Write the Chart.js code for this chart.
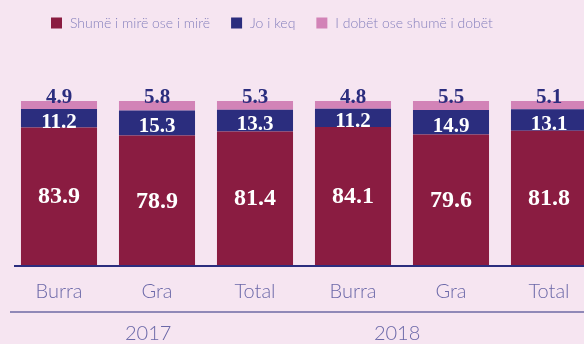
<!DOCTYPE html>
<html>
<head>
<meta charset="utf-8">
<script src="https://cdn.jsdelivr.net/npm/chart.js@4"></script>
<style>
  html, body { margin: 0; padding: 0; background: #f6e5f1; overflow: hidden; }
  #wrap { position: relative; width: 584px; height: 344px; overflow: hidden; }
  canvas { display: block; }
</style>
</head>
<body>
<div id="wrap"><canvas id="chart" width="600" height="344"></canvas></div>
<script>
// categories and values (percent)
const categories = ["Burra", "Gra", "Total", "Burra", "Gra", "Total"];
const years = ["2017", "2018"];
const seriesNames = ["Shumë i mirë ose i mirë", "Jo i keq", "I dobët ose shumë i dobët"];
const good = [83.9, 78.9, 81.4, 84.1, 79.6, 81.8];
const fair = [11.2, 15.3, 13.3, 11.2, 14.9, 13.1];
const poor = [4.9, 5.8, 5.3, 4.8, 5.5, 5.1];

const RED = "#8a1c41";
const NAVY = "#2b2d7e";
const PINK = "#d283b7";
const TICK_COLOR = "#6b68a8";
const LEGEND_COLOR = "#8680bd";

// numbers inside / above the stacked segments
const valueLabels = {
  id: "valueLabels",
  afterDatasetsDraw(chart) {
    const ctx = chart.ctx;
    ctx.save();
    ctx.textAlign = "center";
    ctx.textBaseline = "middle";
    chart.data.datasets.forEach((ds, i) => {
      chart.getDatasetMeta(i).data.forEach((bar, j) => {
        const v = ds.data[j];
        let y = (bar.y + bar.base) / 2;
        if (i === 0) {
          ctx.font = "bold 24px 'Liberation Serif'";
          ctx.fillStyle = "#ffffff";
          y += 1;
        } else if (i === 1) {
          ctx.font = "bold 21px 'Liberation Serif'";
          ctx.fillStyle = "#ffffff";
          y += 4;
        } else {
          ctx.font = "bold 21px 'Liberation Serif'";
          ctx.fillStyle = NAVY;
          y = bar.y - 3;
        }
        ctx.fillText(v.toFixed(1), bar.x, y);
      });
    });
    ctx.restore();
  }
};

// legend, axis lines and the year row
const decorations = {
  id: "decorations",
  afterDraw(chart) {
    const ctx = chart.ctx;
    const x = chart.scales.x;
    ctx.save();

    // legend
    ctx.font = "300 14px Lato";
    ctx.textBaseline = "middle";
    ctx.textAlign = "left";
    let lx = 51;
    const ly = 23;
    chart.data.datasets.forEach((ds) => {
      ctx.fillStyle = ds.backgroundColor;
      ctx.fillRect(lx, ly - 5.5, 11, 11);
      lx += 11 + 8;
      ctx.fillStyle = LEGEND_COLOR;
      ctx.fillText(ds.label, lx, ly);
      lx += ctx.measureText(ds.label).width + 21;
    });

    // base line under the bars
    ctx.fillStyle = NAVY;
    ctx.fillRect(14, chart.chartArea.bottom, chart.width - 14, 2);
    // separator between category and year rows
    ctx.fillRect(10, 311.5, chart.width - 10, 1);

    // year labels
    ctx.font = "300 20px Lato";
    ctx.textAlign = "center";
    ctx.fillStyle = TICK_COLOR;
    const yearPos = [0.91, 3.45];
    years.forEach((yr, k) => {
      ctx.fillText(yr, x.getPixelForValue(yearPos[k]), 334);
    });
    ctx.restore();
  }
};

new Chart(document.getElementById("chart"), {
  type: "bar",
  data: {
    labels: categories,
    datasets: [
      { label: seriesNames[0], data: good, backgroundColor: RED },
      { label: seriesNames[1], data: fair, backgroundColor: NAVY },
      { label: seriesNames[2], data: poor, backgroundColor: PINK },
    ],
  },
  options: {
    responsive: false,
    animation: false,
    devicePixelRatio: 1,
    layout: { padding: { left: 10, right: 2, top: 101, bottom: 0 } },
    datasets: { bar: { categoryPercentage: 1, barPercentage: 0.776 } },
    scales: {
      x: {
        stacked: true,
        grid: { display: false, drawTicks: false },
        border: { display: false },
        ticks: {
          color: TICK_COLOR,
          font: { family: "Lato", size: 20, weight: "300" },
          padding: 15,
        },
        afterFit(scale) {
          scale.height = 79;
        },
      },
      y: {
        stacked: true,
        display: false,
        min: 0,
        max: 100,
      },
    },
    plugins: {
      legend: { display: false },
      tooltip: { enabled: false },
    },
  },
  plugins: [valueLabels, decorations],
});
</script>
</body>
</html>
